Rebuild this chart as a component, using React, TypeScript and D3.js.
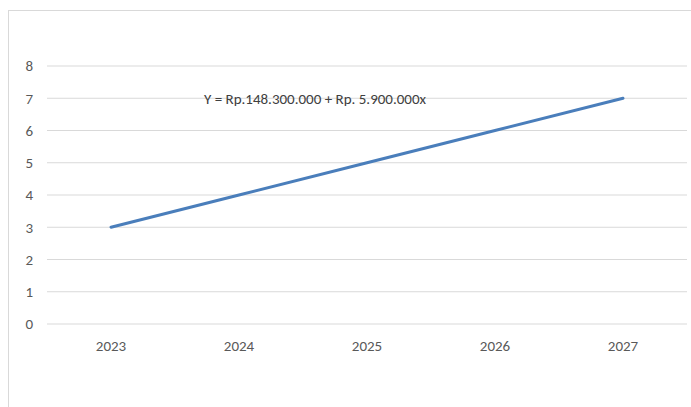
import React from "react";
import * as d3 from "d3";

const years = ["2023", "2024", "2025", "2026", "2027"];
const values = [3, 4, 5, 6, 7];
const yTicks = [0, 1, 2, 3, 4, 5, 6, 7, 8];
const equation = "Y = Rp.148.300.000 + Rp. 5.900.000x";

export default function App() {
  const W = 691, H = 407;
  const x = d3.scaleBand<string>().domain(years).range([47, 687]);
  const y = d3.scaleLinear().domain([0, 8]).range([324, 66]);
  const line = d3
    .line<number>()
    .x((_, i) => (x(years[i]) as number) + x.bandwidth() / 2)
    .y((d) => y(d));
  const font = "Carlito, 'Liberation Sans Narrow', 'Liberation Sans', Arial, sans-serif";
  return (
    <div style={{ position: "fixed", left: 0, top: 0 }}>
      <svg width={W} height={H} style={{ display: "block" }}>
        <rect x={0} y={0} width={W} height={H} fill="#fff" />
        <rect x={8.5} y={10.5} width={W + 10} height={H + 10} fill="#fff" stroke="#d9d9d9" />
        {yTicks.map((t) => (
          <g key={t}>
            <line x1={47} x2={687} y1={y(t)} y2={y(t)} stroke="#d9d9d9" strokeWidth={1} />
            <text x={33} y={y(t)} dy="0.35em" textAnchor="end" fontFamily={font} fontSize={15} fill="#595959">
              {t}
            </text>
          </g>
        ))}
        {years.map((yr) => (
          <text key={yr} x={(x(yr) as number) + x.bandwidth() / 2} y={346} dy="0.35em" textAnchor="middle" fontFamily={font} fontSize={15} fill="#595959">
            {yr}
          </text>
        ))}
        <path d={line(values) || ""} fill="none" stroke="#4a7ebb" strokeWidth={3} strokeLinecap="round" />
        <text x={315} y={99} dy="0.35em" textAnchor="middle" fontFamily={font} fontSize={15} fill="#404040">
          {equation}
        </text>
      </svg>
    </div>
  );
}
